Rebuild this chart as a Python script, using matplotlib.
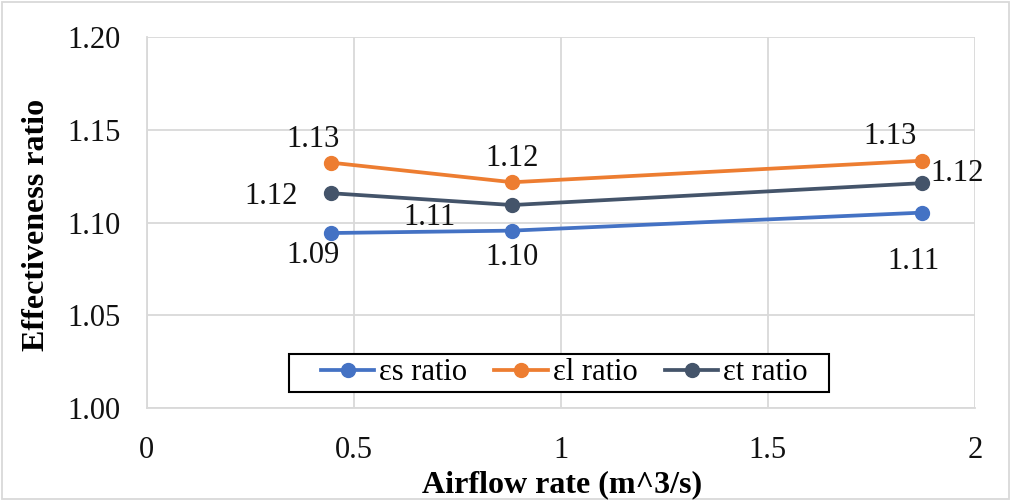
import matplotlib
matplotlib.use("Agg")
import matplotlib.pyplot as plt
from matplotlib.patches import Rectangle

plt.rcParams['font.family'] = ['Liberation Serif', 'DejaVu Serif']

# airflow rates (m^3/s) and effectiveness ratios
airflow = [0.444, 0.883, 1.871]
eps_s = [1.0944, 1.0957, 1.1054]
eps_l = [1.1324, 1.1218, 1.1334]
eps_t = [1.1159, 1.1095, 1.1213]

series_names = ["\u03b5s ratio", "\u03b5l ratio", "\u03b5t ratio"]
colors = ["#4472C4", "#ED7D31", "#44546A"]

# label offsets in pixels (dx, dy) for each point of each series
label_offsets = [
    [(-18, -22), (0, -27), (-8, -49)],
    [(-18, 23), (0, 24), (-32, 24)],
    [(-60, -3), (-83, -12), (35, 10)],
]

fig = plt.figure(figsize=(10.11, 5), dpi=100)
ax = fig.add_axes([0.1451, 0.184, 0.8193, 0.7414])

grid_c = "#D9D9D9"
for vals, name, c, offs in zip([eps_s, eps_l, eps_t], series_names, colors, label_offsets):
    ax.plot(airflow, vals, color=c, lw=2.7, marker="o", markersize=10,
            label=name, zorder=3)
    for x, y, (dx, dy) in zip(airflow, vals, offs):
        ax.annotate(f"{y:.2f}", (x, y), xytext=(dx * 0.72, dy * 0.72),
                    textcoords="offset points", ha="center", va="center",
                    fontsize=22, color="#111111")

ax.set_xlim(0, 2)
ax.set_ylim(1.00, 1.20)
ax.set_xticks([0, 0.5, 1, 1.5, 2])
ax.set_xticklabels(["0", "0.5", "1", "1.5", "2"])
ax.set_yticks([1.00, 1.05, 1.10, 1.15, 1.20])
ax.set_yticklabels([f"{v:.2f}" for v in [1.00, 1.05, 1.10, 1.15, 1.20]])
ax.tick_params(axis="both", length=0, labelsize=22, colors="#111111")
ax.tick_params(axis="x", pad=20)
ax.tick_params(axis="y", pad=19)
ax.grid(True, color=grid_c, lw=1.3)
ax.set_axisbelow(True)
for side in ["top", "right"]:
    ax.spines[side].set_visible(False)
for side in ["left", "bottom"]:
    ax.spines[side].set_color(grid_c)
    ax.spines[side].set_linewidth(1.3)

fig.text(0.556, 0.03, "Airflow rate (m^3/s)", ha="center", va="center",
         fontsize=23, fontweight="bold")
fig.text(0.036, 0.55, "Effectiveness ratio", ha="center", va="center",
         rotation=90, fontsize=23, fontweight="bold")

leg = fig.legend(loc="center", bbox_to_anchor=(0.558, 0.254), ncol=3,
                 fontsize=22, frameon=False, handlelength=1.75,
                 columnspacing=0.9, handletextpad=0.15, borderpad=0.2,
                 borderaxespad=0)

# legend box, drawn separately for wider side padding
fig.patches.append(Rectangle((0.2862, 0.216), 0.534, 0.076, transform=fig.transFigure,
                             facecolor="white", edgecolor="black", lw=1.5, zorder=2))
leg.set_zorder(3)

# chart area border
fig.patches.append(Rectangle((0.002, 0.003), 0.996, 0.994, transform=fig.transFigure,
                             fill=False, edgecolor=grid_c, lw=1.3))

fig.savefig("out.png", dpi=100)
